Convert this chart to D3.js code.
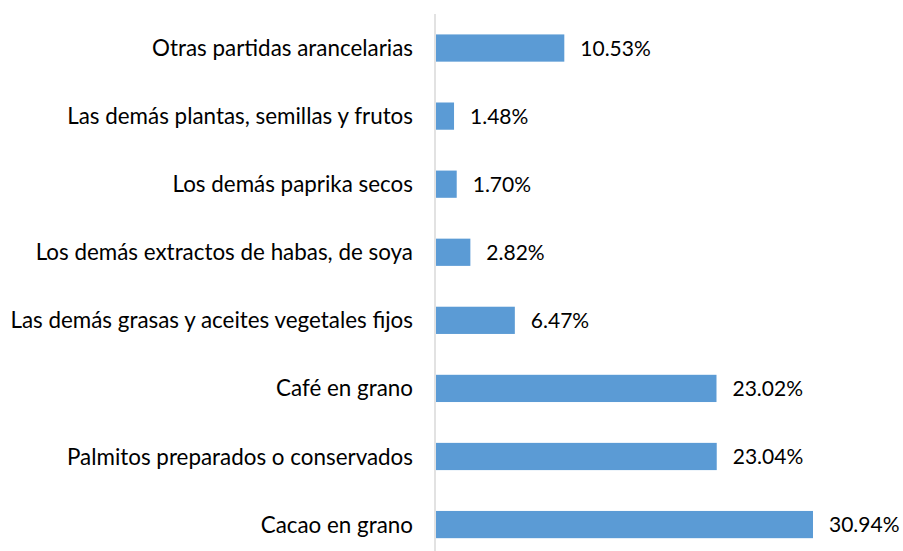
<!DOCTYPE html>
<html>
<head>
<meta charset="utf-8">
<script src="https://cdn.jsdelivr.net/npm/d3@7"></script>
<style>
	body { margin: 0; background: #fff; }
	text { font-family: Lato, "Open Sans", sans-serif; fill: #000; }
</style>
</head>
<body>
<div id="chart"></div>
<script>
var categories = [
	"Otras partidas arancelarias",
	"Las demás plantas, semillas y frutos",
	"Los demás paprika secos",
	"Los demás extractos de habas, de soya",
	"Las demás grasas y aceites vegetales fijos",
	"Café en grano",
	"Palmitos preparados o conservados",
	"Cacao en grano"
];
var shares = [10.53, 1.48, 1.70, 2.82, 6.47, 23.02, 23.04, 30.94];

var width = 903,
	height = 551;
var axisX = 435;

var svg = d3.select("#chart").append("svg")
	.attr("width", width)
	.attr("height", height);

var x = d3.scaleLinear()
	.domain([0, 30.94])
	.range([axisX + 1, 813]);

var y = d3.scaleBand()
	.domain(categories)
	.range([14, 558.6])
	.paddingInner(0.6)
	.paddingOuter(0.3);

var data = categories.map(function(c, i) {
	return { name: c, value: shares[i] };
});

svg.selectAll(".bar")
	.data(data)
	.enter().append("rect")
	.attr("class", "bar")
	.attr("x", x(0))
	.attr("y", function(d) { return y(d.name); })
	.attr("width", function(d) { return x(d.value) - x(0); })
	.attr("height", y.bandwidth())
	.attr("fill", "#5b9bd5");

// category axis line
svg.append("line")
	.attr("x1", axisX).attr("x2", axisX)
	.attr("y1", 14).attr("y2", height)
	.attr("stroke", "#d9d9d9")
	.attr("stroke-width", 1.5);

svg.selectAll(".cat")
	.data(data)
	.enter().append("text")
	.attr("class", "cat")
	.attr("x", 413)
	.attr("y", function(d) { return y(d.name) + y.bandwidth() / 2; })
	.attr("dy", "0.36em")
	.attr("text-anchor", "end")
	.style("font-size", "22.4px")
	.text(function(d) { return d.name; });

svg.selectAll(".val")
	.data(data)
	.enter().append("text")
	.attr("class", "val")
	.attr("x", function(d) { return x(d.value) + 16; })
	.attr("y", function(d) { return y(d.name) + y.bandwidth() / 2; })
	.attr("dy", "0.36em")
	.style("font-size", "21px")
	.text(function(d) { return d.value.toFixed(2) + "%"; });
</script>
</body>
</html>
